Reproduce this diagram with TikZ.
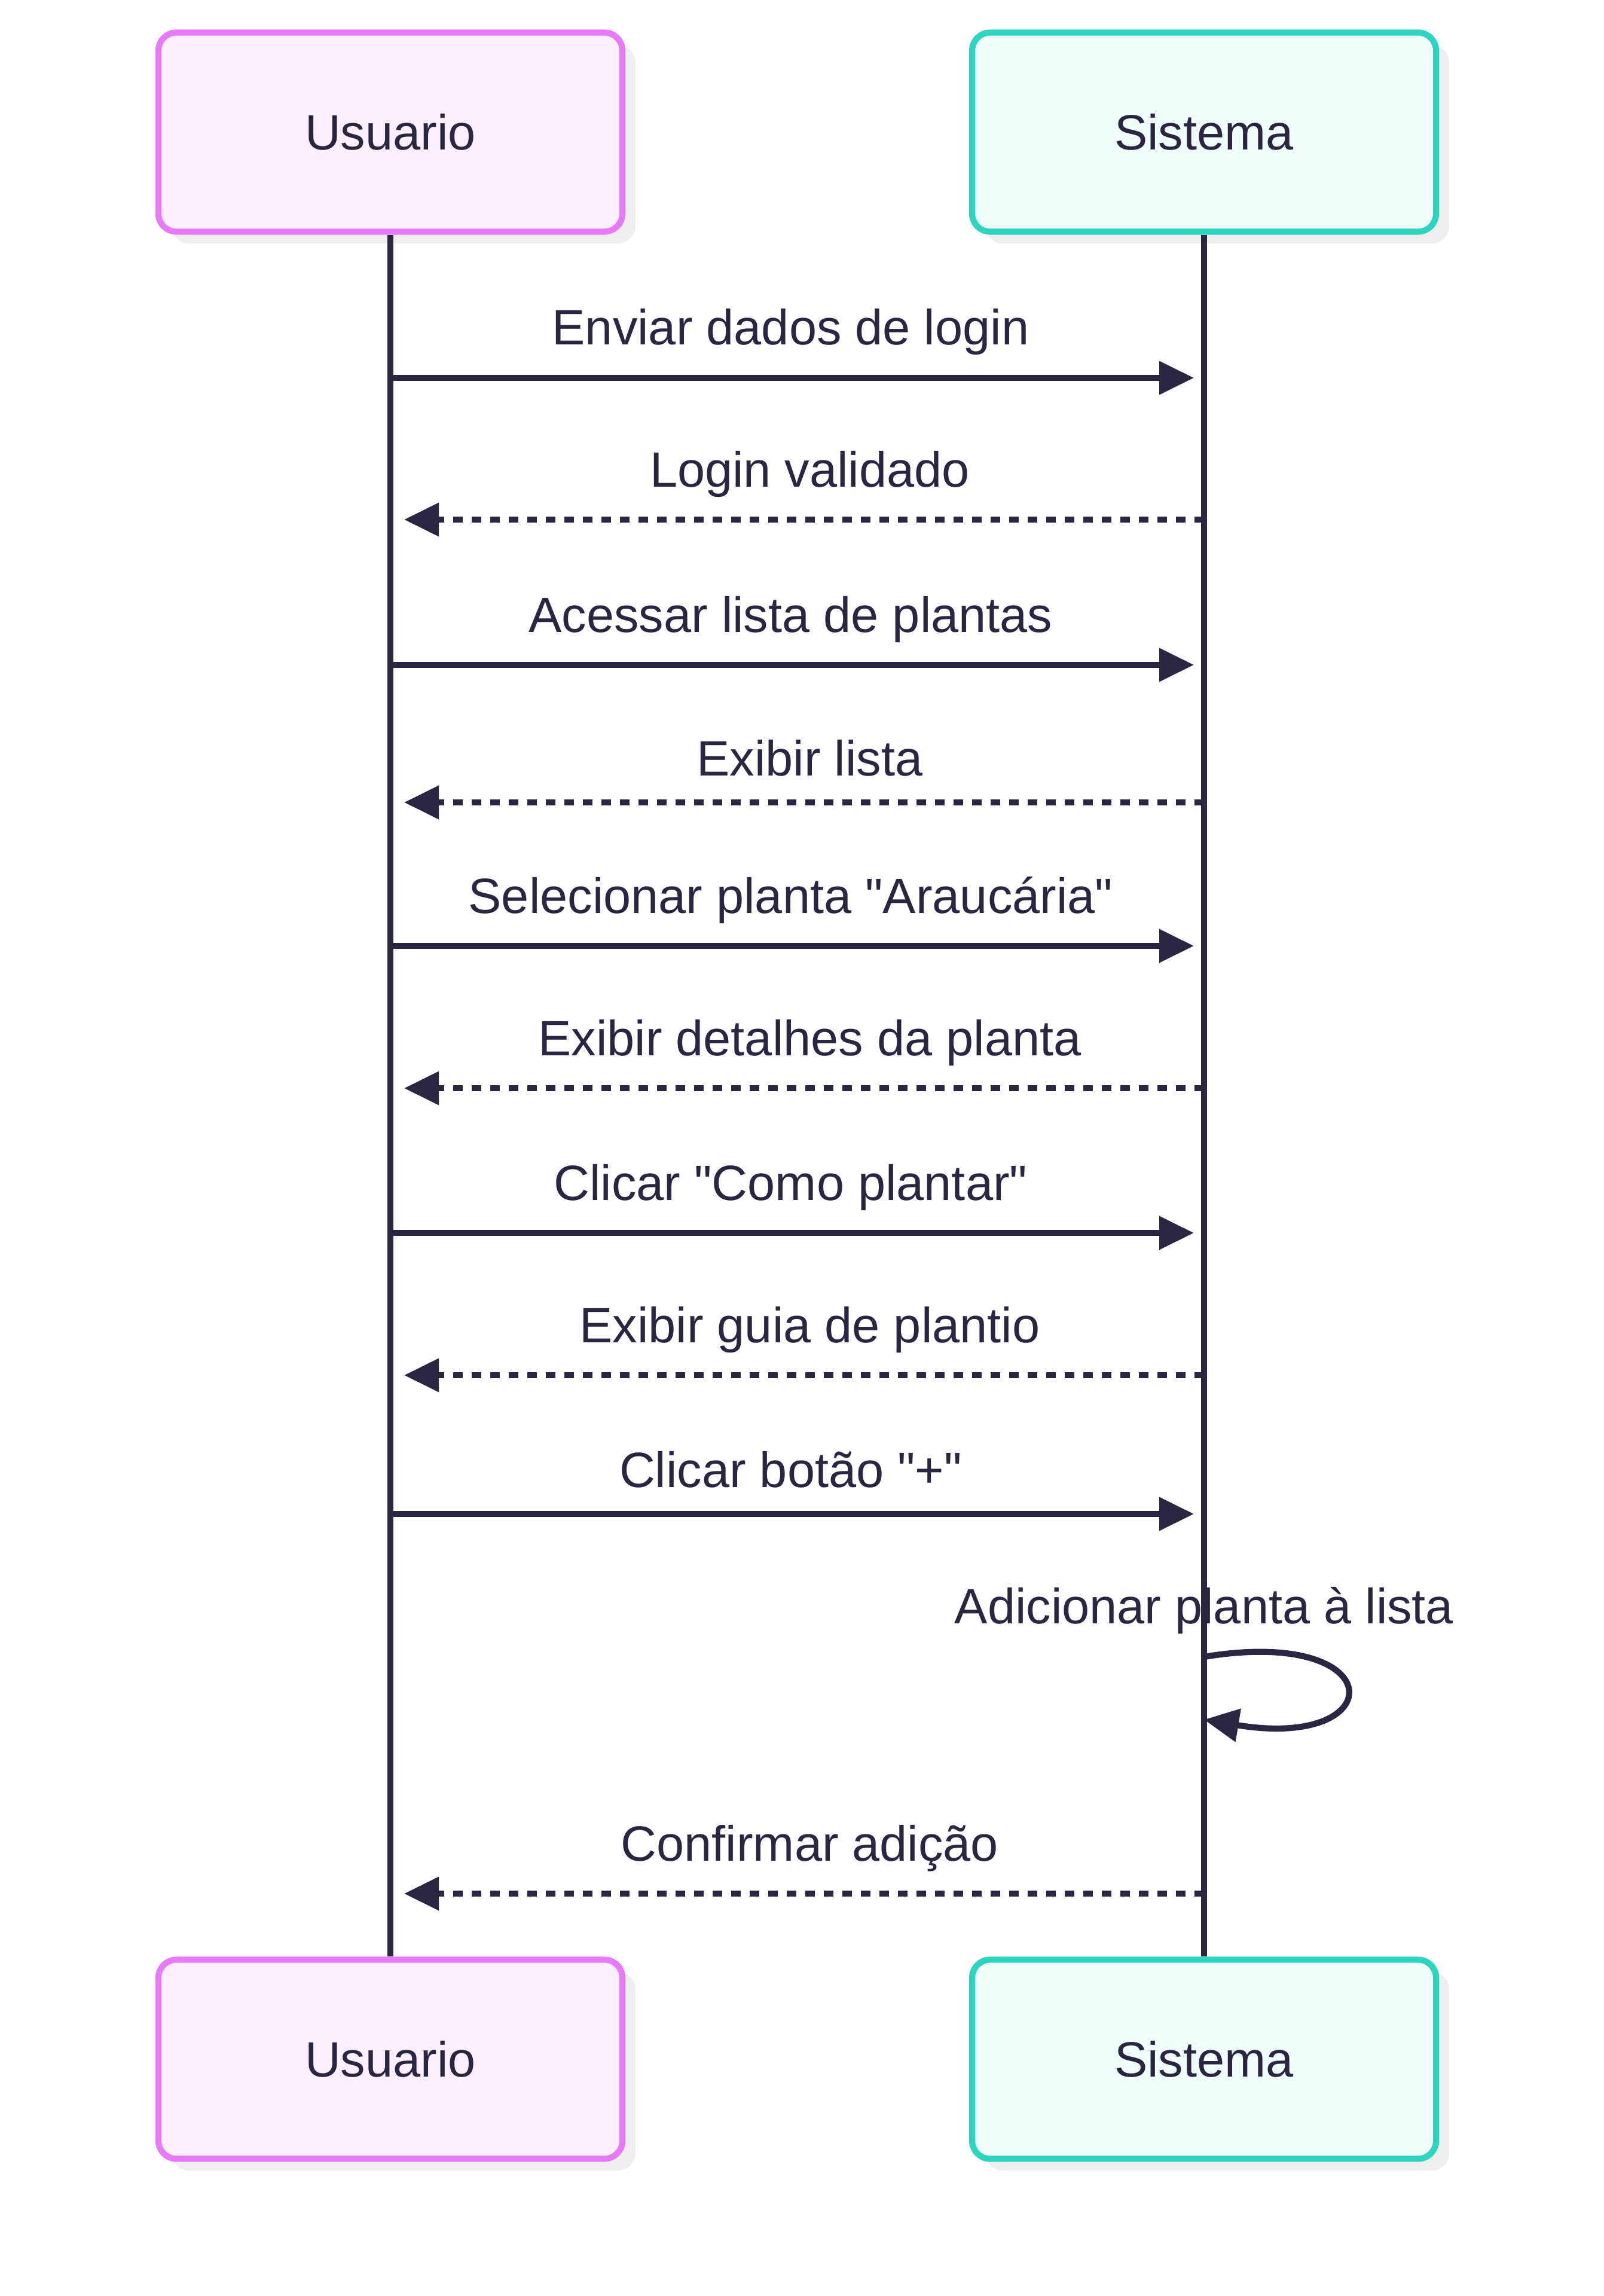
\documentclass[tikz,border=0pt]{standalone}
\usepackage{fontspec}
\setmainfont{Liberation Sans}[Ligatures=TeXOff]
\usetikzlibrary{arrows.meta}
\usetikzlibrary{shadows}
\definecolor{ink}{HTML}{2A2541}
\definecolor{userline}{HTML}{E879F9}
\definecolor{userfill}{HTML}{FDF0FE}
\definecolor{sysline}{HTML}{2DD4BF}
\definecolor{sysfill}{HTML}{F0FDFA}
\definecolor{shade}{HTML}{EFEFEF}

\begin{document}
\begin{tikzpicture}[
  font=\fontsize{23.6}{28}\selectfont, text=ink,
  actor/.style={rounded corners=0.3cm, line width=2.9pt, minimum width=7.76cm,
    minimum height=3.33cm, inner sep=0pt,
    drop shadow={shadow xshift=0.22cm, shadow yshift=-0.2cm, fill=shade, opacity=1}},
  usr/.style={actor, draw=userline, fill=userfill},
  sys/.style={actor, draw=sysline, fill=sysfill},
  life/.style={draw=ink, line width=2.9pt},
  msg/.style={draw=ink, line width=2.9pt, -{Triangle[length=0.58cm,width=0.54cm]},
    shorten >=0.17cm},
  reply/.style={msg, dash pattern=on 0.16cm off 0.15cm, shorten >=0.23cm},
  lbl/.style={anchor=base, yshift=#1, xshift=-0.11cm},
  lbl/.default=0.55cm,
  rlbl/.style={anchor=base, yshift=#1, xshift=0.21cm},
  rlbl/.default=0.55cm
]
  \useasboundingbox (0,0) rectangle (26.82,-38.40);

  \node[usr] (ut) at (6.53,-2.21) {Usuario};
  \node[sys] (st) at (20.14,-2.21) {Sistema};
  \node[usr] (ub) at (6.53,-34.44) {Usuario};
  \node[sys] (sb) at (20.14,-34.44) {Sistema};

  \draw[life] (ut) -- (ub);
  \draw[life] (st) -- (sb);

  \draw[msg] (ut |- 0,-6.32) -- (st |- 0,-6.32) node[midway, lbl] (m1) {Enviar dados de login};
  \draw[reply] (st |- 0,-8.69) -- (ut |- 0,-8.69) node[midway, rlbl] (m2) {Login validado};
  \draw[msg] (ut |- 0,-11.12) -- (st |- 0,-11.12) node[midway, lbl] (m3) {Acessar lista de plantas};
  \draw[reply] (st |- 0,-13.42) -- (ut |- 0,-13.42) node[midway, rlbl=0.45cm] (m4) {Exibir lista};
  \draw[msg] (ut |- 0,-15.82) -- (st |- 0,-15.82) node[midway, lbl] (m5) {Selecionar planta "Araucária"};
  \draw[reply] (st |- 0,-18.20) -- (ut |- 0,-18.20) node[midway, rlbl] (m6) {Exibir detalhes da planta};
  \draw[msg] (ut |- 0,-20.62) -- (st |- 0,-20.62) node[midway, lbl] (m7) {Clicar "Como plantar"};
  \draw[reply] (st |- 0,-23.00) -- (ut |- 0,-23.00) node[midway, rlbl] (m8) {Exibir guia de plantio};
  \draw[msg] (ut |- 0,-25.32) -- (st |- 0,-25.32) node[midway, lbl=0.45cm] (m9) {Clicar botão "+"};

  \node[anchor=base] (m10) at (st |- 0,-27.15) {Adicionar planta à lista};
  \draw[msg, shorten >=0pt] (st |- 0,-27.71) .. controls +(3.14,0.52) and +(3.14,-0.52) .. (st |- 0,-28.76);

  \draw[reply] (st |- 0,-31.67) -- (ut |- 0,-31.67) node[midway, rlbl] (m11) {Confirmar adição};
\end{tikzpicture}
\end{document}
